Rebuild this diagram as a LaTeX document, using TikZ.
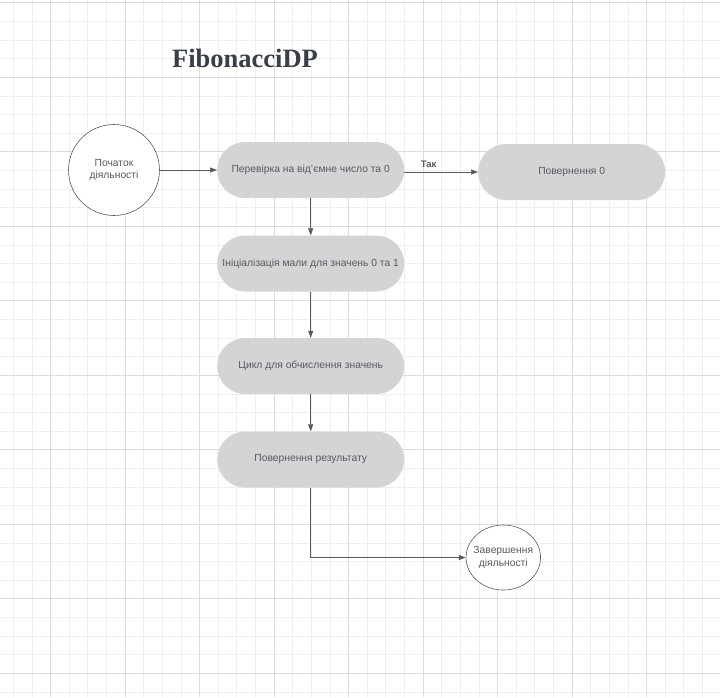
\documentclass[tikz,border=0pt]{standalone}
\usepackage{fontspec}
\setmainfont{Liberation Sans}
\newfontfamily\titlefont{Liberation Serif}
\usetikzlibrary{arrows.meta,shapes.geometric}
\definecolor{gridminor}{HTML}{EFEFEF}
\definecolor{gridmajor}{HTML}{DCDCDC}
\definecolor{boxfill}{HTML}{D4D4D6}
\definecolor{txtgray}{HTML}{555A60}
\definecolor{linegray}{HTML}{5A5A5A}
\definecolor{titlecol}{HTML}{3A3F47}
\tikzset{
  pill/.style={fill=boxfill, draw=none, rectangle, rounded corners=28pt,
    minimum width=187pt, minimum height=56pt, text=txtgray,
    font=\fontsize{10.3}{12}\selectfont, inner sep=0pt},
  circ/.style={draw=linegray, line width=0.6pt, circle, fill=white, text=txtgray,
    font=\fontsize{10.3}{12.5}\selectfont, align=center, inner sep=0pt},
  conn/.style={draw=linegray, line width=0.6pt, -{Triangle[length=7pt,width=5pt]}},
  lbl/.style={text=txtgray, font=\bfseries\fontsize{9.5}{10}\selectfont}
}
\begin{document}
\begin{tikzpicture}[x=1pt,y=-1pt]
\useasboundingbox[fill=white] (0,0) rectangle (720,697);
% minor grid
\foreach \i in {0,...,38} {
  \draw[gridminor, line width=0.6pt] ({13.25+18.625*\i},0) -- ({13.25+18.625*\i},697);
  \draw[gridminor, line width=0.6pt] (0,{2.7+18.625*\i}) -- (720,{2.7+18.625*\i});
}
% major grid
\foreach \i in {0,...,9} {
  \draw[gridmajor, line width=0.6pt] ({50.5+74.5*\i},0) -- ({50.5+74.5*\i},697);
  \draw[gridmajor, line width=0.6pt] (0,{2.7+74.5*\i}) -- (720,{2.7+74.5*\i});
}
% title
\node[text=titlecol, font=\titlefont\bfseries\fontsize{26.5}{30}\selectfont] (title) at (245,58) {FibonacciDP};
% nodes
\node[circ, minimum size=91pt] (start) at (114,170) {Початок\\діяльності};
\node[pill] (check) at (310.7,170) {Перевірка на від'ємне число та 0};
\node[pill] (ret0) at (571.7,172) {Повернення 0};
\node[pill] (init) at (310.7,263.5) {Ініціалізація мали для значень 0 та 1};
\node[pill] (cyc) at (310.7,366) {Цикл для обчислення значень};
\node[pill] (res) at (310.7,459.5) {Повернення результату};
\node[circ, ellipse, inner xsep=-8pt, minimum width=74.5pt, minimum height=65pt] (end) at (503.3,557.5) {Завершення\\діяльності};
% connectors
\draw[conn] (start.east) -- (check.west);
\draw[conn] (check.east |- ret0.west) -- (ret0.west) node[lbl, pos=0.33, above=1pt] (tak) {Так};
\draw[conn] (check.south) -- (init.north);
\draw[conn] (init.south) -- (cyc.north);
\draw[conn] (cyc.south) -- (res.north);
\draw[conn] (res.south) |- (end.west);
\end{tikzpicture}
\end{document}
